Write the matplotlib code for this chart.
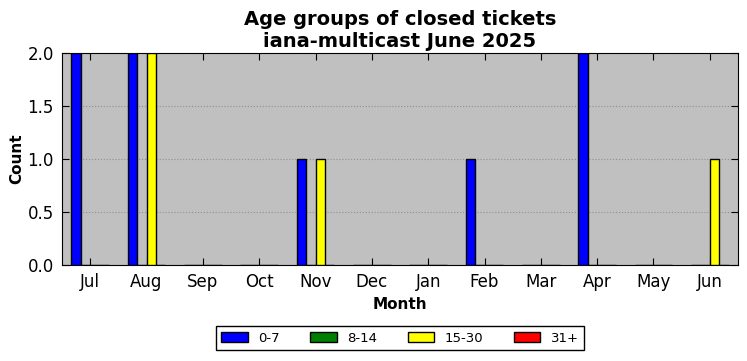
import numpy as np
import matplotlib
matplotlib.use("Agg")
import matplotlib.pyplot as plt

months = ["Jul", "Aug", "Sep", "Oct", "Nov", "Dec", "Jan", "Feb", "Mar", "Apr", "May", "Jun"]
groups = ["0-7", "8-14", "15-30", "31+"]
colors = ["blue", "green", "yellow", "red"]

age_0_7 = [2, 2, 0, 0, 1, 0, 0, 1, 0, 2, 0, 0]
age_8_14 = [0, 0, 0, 0, 0, 0, 0, 0, 0, 0, 0, 0]
age_15_30 = [0, 2, 0, 0, 1, 0, 0, 0, 0, 0, 0, 1]
age_31 = [0, 0, 0, 0, 0, 0, 0, 0, 0, 0, 0, 0]
series = [age_0_7, age_8_14, age_15_30, age_31]

fig = plt.figure(figsize=(7.47, 3.61), dpi=100)
ax = fig.add_axes([62 / 747, 1 - 265 / 361, 676 / 747, 212 / 361])
ax.set_facecolor("#c0c0c0")

x = np.arange(len(months))
w = 0.168
for i, (vals, c, g) in enumerate(zip(series, colors, groups)):
    ax.bar(x + (i - 2) * w, vals, w, align="edge", color=c, edgecolor="black",
           linewidth=1, label=g, zorder=3)

ax.set_xlim(-0.5, 11.5)
ax.set_ylim(0, 2)
ax.set_yticks([0, 0.5, 1.0, 1.5, 2.0])
ax.set_yticklabels(["0.0", "0.5", "1.0", "1.5", "2.0"])
ax.set_xticks(x)
ax.set_xticklabels(months)
ax.tick_params(direction="in", top=True, right=True, labelsize=12, length=5, pad=6)
ax.yaxis.grid(True, linestyle=":", color="#909090", linewidth=0.8, zorder=0)
ax.set_axisbelow(True)

ax.set_xlabel("Month", fontsize=11, fontweight="bold")
ax.set_ylabel("Count", fontsize=11, fontweight="bold", labelpad=2)
ax.set_title("Age groups of closed tickets\niana-multicast June 2025",
             fontsize=14, fontweight="bold", linespacing=1.2, pad=4)

fig.legend(loc="center", bbox_to_anchor=(400 / 747, 1 - 338 / 361), ncol=4,
           fontsize=9.5, frameon=True, fancybox=False, edgecolor="black",
           framealpha=1, handlelength=2.0, handleheight=0.75, handletextpad=0.8,
           columnspacing=2.3, borderpad=0.4)
leg = fig.legends[0]
leg.get_frame().set_linewidth(1)

fig.savefig("out.png", dpi=100)
